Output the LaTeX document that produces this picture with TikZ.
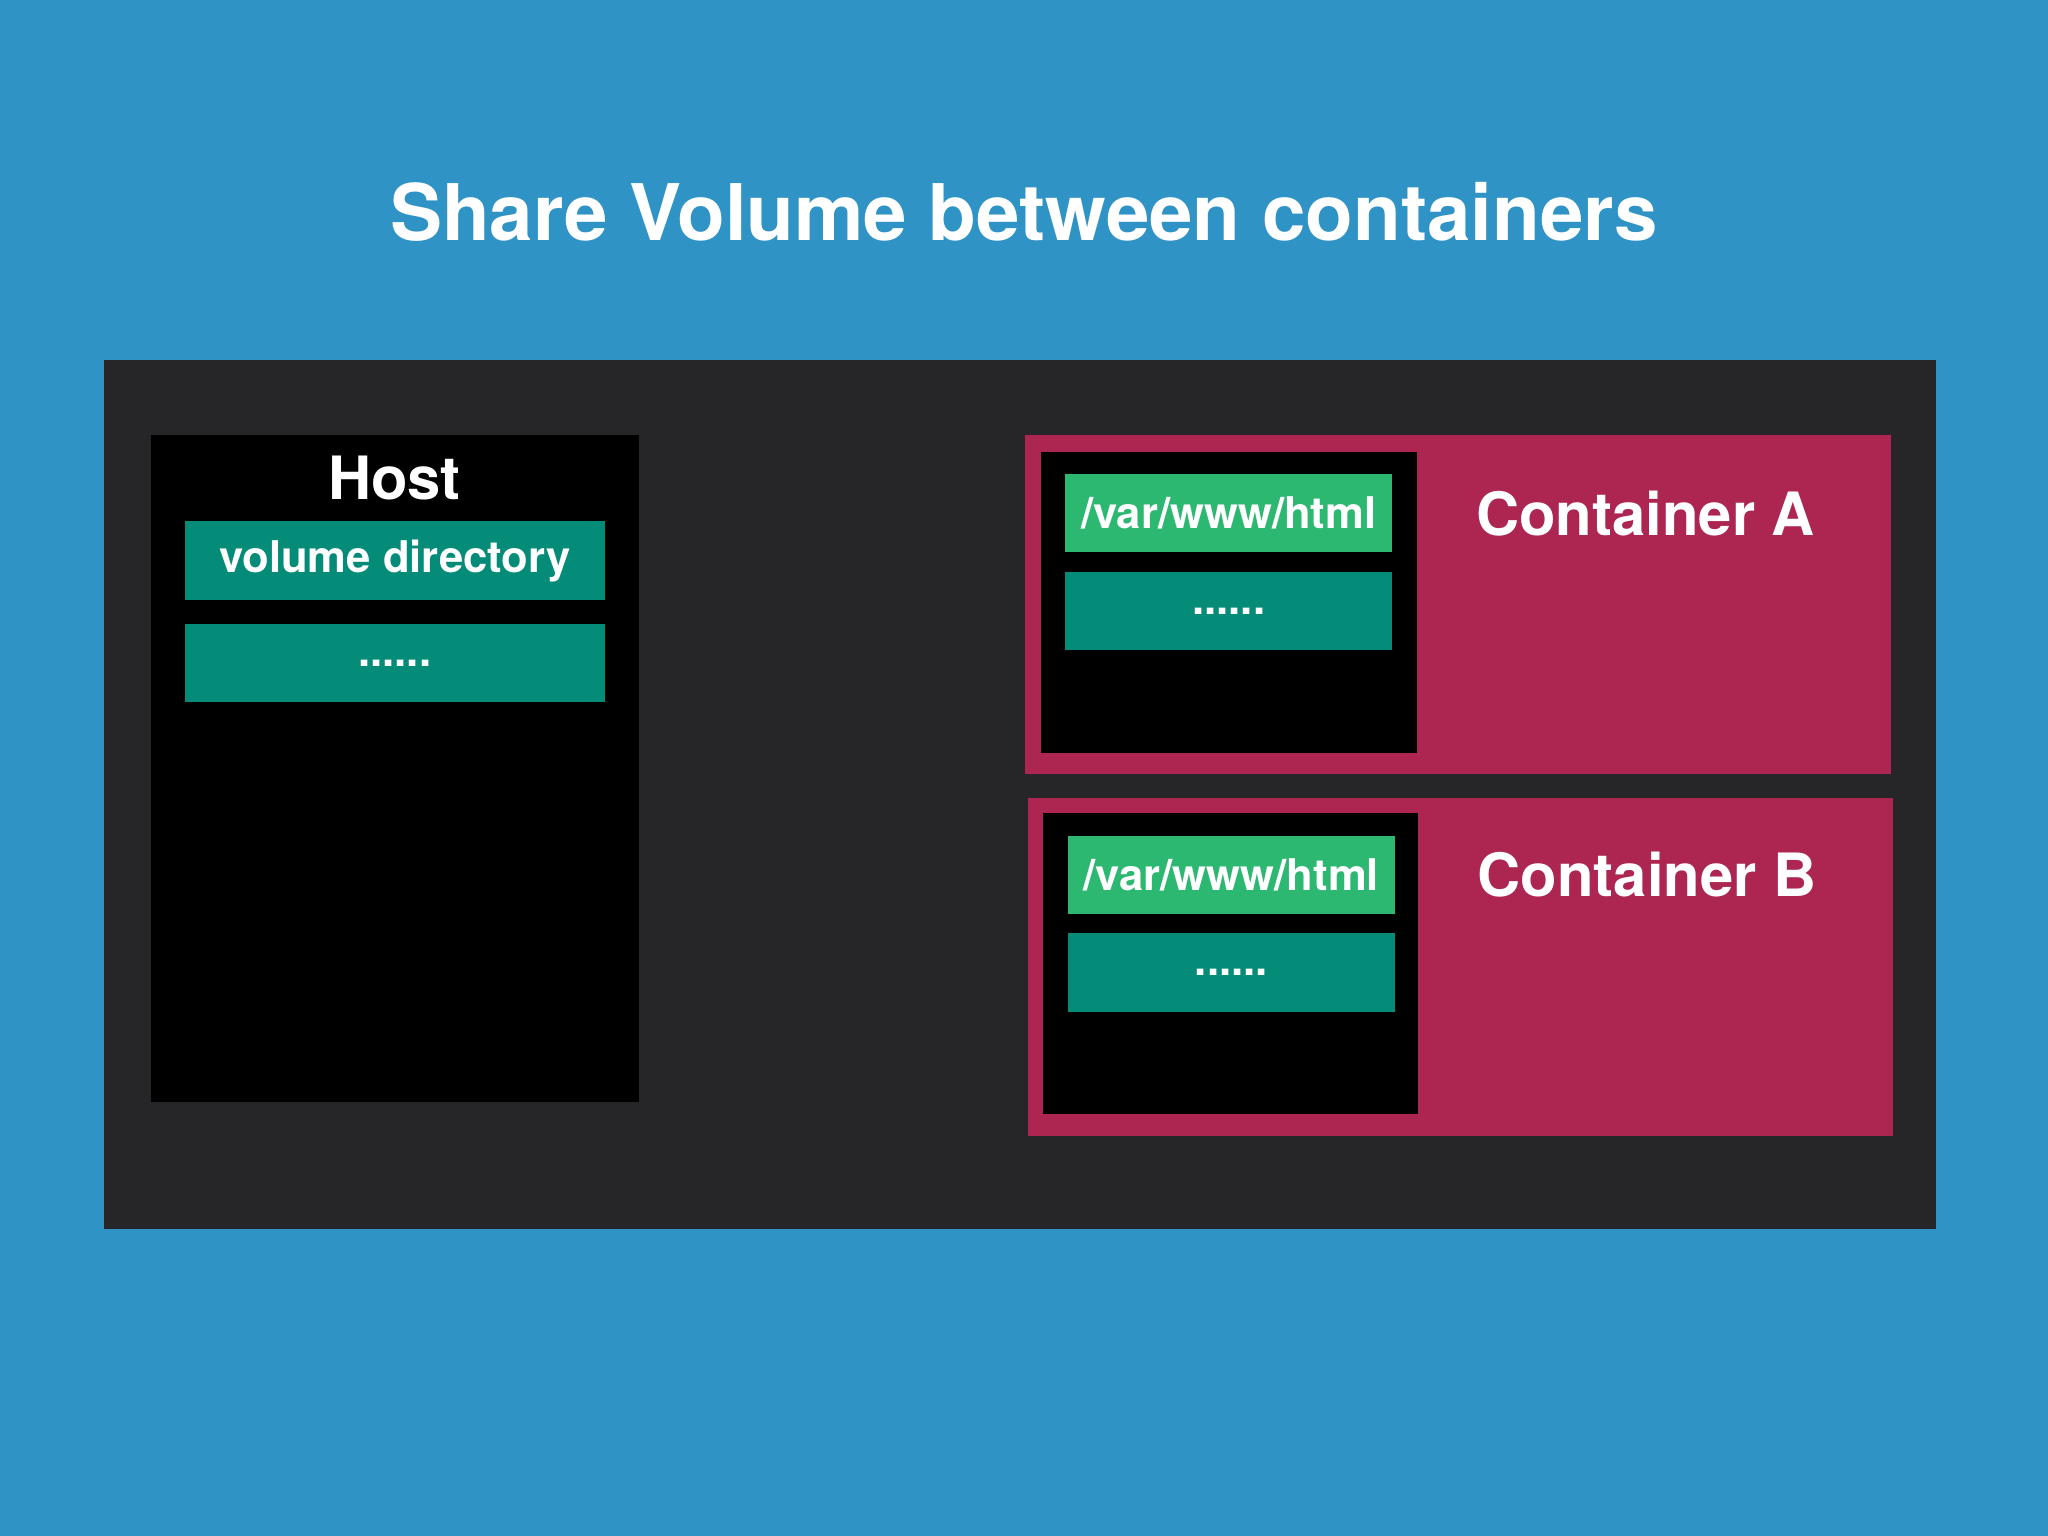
\documentclass[tikz,border=0pt]{standalone}
\usepackage{fontspec}
\setmainfont{TeX Gyre Heros}
\usepackage{tikz}
\definecolor{skyblue}{HTML}{3093C5}
\definecolor{panel}{HTML}{262528}
\definecolor{crimson}{HTML}{AC2651}
\definecolor{teal}{HTML}{048C79}
\definecolor{mint}{HTML}{2DB872}

\tikzset{
  blk/.style={fill=#1, draw=none, inner sep=0pt, anchor=north west},
  lbl/.style={white, font=\bfseries\fontsize{#1}{0}\selectfont}
}

\begin{document}
\begin{tikzpicture}[x=0.01cm, y=-0.01cm]
\fill[skyblue] (0,0) rectangle (1568,1176);
\useasboundingbox (0,0) rectangle (1568,1176);

\node (T) at (784,162) [lbl=17] {Share Volume between containers};

\fill[panel] (80,276) rectangle (1482,941);

% host side
\node (H) at (115,332) [blk=black, minimum width=3.73cm, minimum height=5.11cm] {};
\node (Ht) at (302,366) [lbl=13] {Host};
\node (V) at (141,398) [blk=teal, minimum width=3.21cm, minimum height=0.61cm] {};
\node at (V.center) [lbl=9.5] {volume directory};
\node (Hd) at (141,477) [blk=teal, minimum width=3.21cm, minimum height=0.60cm] {};
\node at (Hd.center) [lbl=9.5] {......};

% container A
\node (CA) at (784,332) [blk=crimson, minimum width=6.63cm, minimum height=2.60cm] {};
\node (IA) at (796,345) [blk=black, minimum width=2.88cm, minimum height=2.31cm] {};
\node (PA) at (815,362) [blk=mint, minimum width=2.50cm, minimum height=0.60cm] {};
\node at (PA.center) [lbl=9.5] {/var/www/html};
\node (DA) at (815,437) [blk=teal, minimum width=2.50cm, minimum height=0.60cm] {};
\node at (DA.center) [lbl=9.5] {......};
\node (LA) at (1260,393) [lbl=13] {Container A};

% container B
\node (CB) at (786,610) [blk=crimson, minimum width=6.62cm, minimum height=2.59cm] {};
\node (IB) at (798,622) [blk=black, minimum width=2.87cm, minimum height=2.30cm] {};
\node (PB) at (817,639) [blk=mint, minimum width=2.50cm, minimum height=0.60cm] {};
\node at (PB.center) [lbl=9.5] {/var/www/html};
\node (DB) at (817,714) [blk=teal, minimum width=2.50cm, minimum height=0.60cm] {};
\node at (DB.center) [lbl=9.5] {......};
\node (LB) at (1261,670) [lbl=13] {Container B};
\end{tikzpicture}
\end{document}
